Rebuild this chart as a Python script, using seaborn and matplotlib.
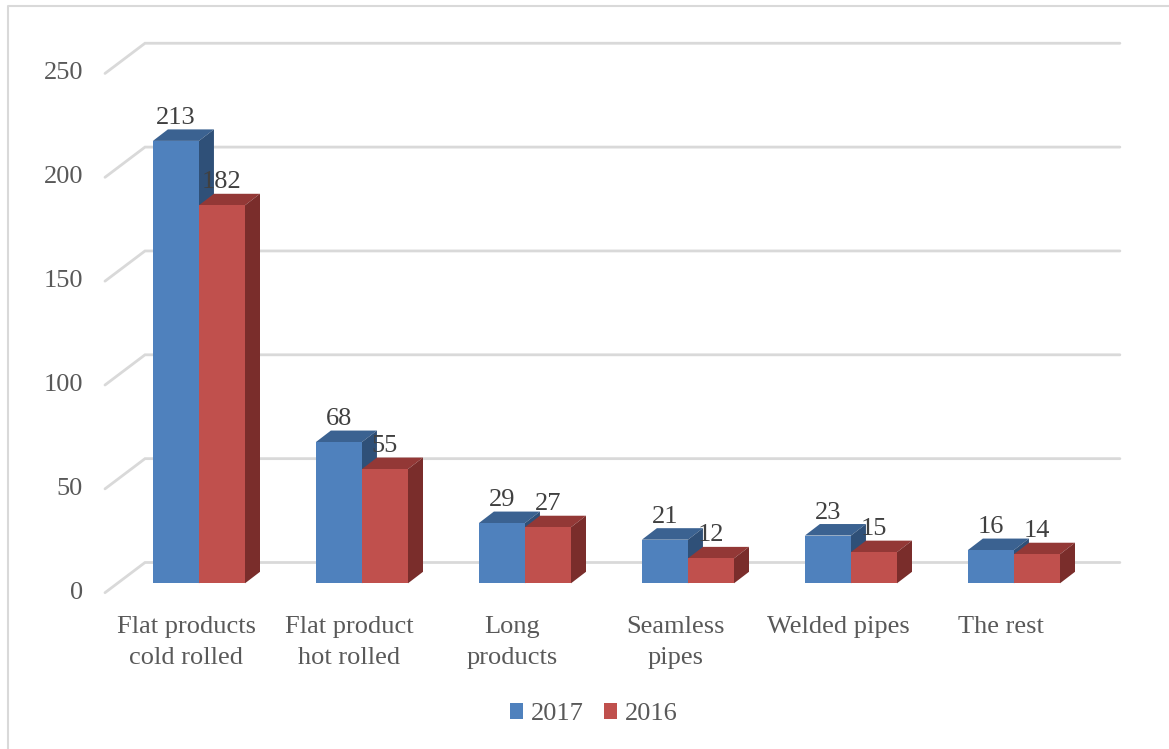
import matplotlib
matplotlib.use("Agg")
import matplotlib.pyplot as plt
from matplotlib.patches import Polygon, Patch
from matplotlib.lines import Line2D
import seaborn as sns
import pandas as pd

# ---- data -------------------------------------------------------------
categories = ["Flat products\ncold rolled", "Flat product\nhot rolled", "Long\nproducts",
              "Seamless\npipes", "Welded pipes", "The rest"]
series_names = ["2017", "2016"]
values_2017 = [213, 68, 29, 21, 23, 16]
values_2016 = [182, 55, 27, 12, 15, 14]
y_ticks = [0, 50, 100, 150, 200, 250]

front_colors = {"2017": "#4F81BD", "2016": "#C0504D"}
top_colors = {"2017": "#3B6291", "2016": "#933836"}
side_colors = {"2017": "#2F5078", "2016": "#7A2D2B"}
grid_color = "#D9D9D9"
label_color = "#595959"
value_color = "#404040"

df = pd.DataFrame({
    "category": categories * 2,
    "year": [series_names[0]] * len(categories) + [series_names[1]] * len(categories),
    "value": values_2017 + values_2016,
})

# ---- figure geometry ----------------------------------------------------
W, H, DPI = 1169, 749, 100
fig = plt.figure(figsize=(W / DPI, H / DPI), dpi=DPI)
sns.set_style("white")
plt.rcParams["font.family"] = ["Liberation Serif", "DejaVu Serif"]

PX_X = 163.0            # pixels per category step
PX_Y = 2.077            # pixels per value unit
XLIM = (-0.65, 5.65)
YLIM = (-12, 262)
left_px = 93
bottom_px = 583.3 + (0 - YLIM[0]) * PX_Y
ax_w = (XLIM[1] - XLIM[0]) * PX_X
ax_h = (YLIM[1] - YLIM[0]) * PX_Y
ax = fig.add_axes([left_px / W, (H - bottom_px) / H, ax_w / W, ax_h / H])

sx = 1.0 / PX_X   # data units per horizontal pixel
sy = 1.0 / PX_Y   # data units per vertical pixel

# oblique depth offsets relative to the bars' front plane
bar_depth = (15 * sx, 11.5 * sy)
wall = (27.3 * sx, 20.8 * sy)
floor_front = (-12.7 * sx, -9.4 * sy)

# ---- bars (front faces) ---------------------------------------------------
sns.barplot(data=df, x="category", y="value", hue="year", order=categories,
            hue_order=series_names, palette=front_colors, width=0.565,
            dodge=True, legend=False, saturation=1, ax=ax, zorder=3,
            linewidth=0)

ax.set_xlim(*XLIM)
ax.set_ylim(*YLIM)
ax.axis("off")

# ---- back wall gridlines, left diagonals and value axis labels --------------
x_wall_left = XLIM[0] + (145 - left_px) * sx
x_floor_left = x_wall_left - 40 * sx
x_wall_right = XLIM[1]
for v in y_ticks:
    yb = v + wall[1]
    yf = v + floor_front[1]
    ax.add_line(Line2D([x_floor_left, x_wall_left, x_wall_right], [yf, yb, yb],
                       color=grid_color, lw=2.0, zorder=1, clip_on=False,
                       solid_joinstyle="miter"))
    ax.text(x_floor_left - 22 * sx, yf, str(v), ha="right", va="center",
            fontsize=19, color=label_color, clip_on=False)

# ---- 3D tops and sides of each bar, plus value labels -----------------------
dx, dy = bar_depth
n_series = len(series_names)
for c_idx, (container, name) in enumerate(zip(ax.containers, series_names)):
    vals = values_2017 if name == "2017" else values_2016
    for i, (bar, val) in enumerate(zip(container, vals)):
        x0 = bar.get_x()
        x1 = x0 + bar.get_width()
        y0 = bar.get_y()
        y1 = y0 + bar.get_height()
        # draw order: left to right, each front covering the previous side
        z = 3 + (i * n_series + c_idx) * 0.01
        top = Polygon([(x0, y1), (x0 + dx, y1 + dy), (x1 + dx, y1 + dy), (x1, y1)],
                      closed=True, facecolor=top_colors[name], edgecolor="none", zorder=z)
        side = Polygon([(x1, y0), (x1, y1), (x1 + dx, y1 + dy), (x1 + dx, y0 + dy)],
                       closed=True, facecolor=side_colors[name], edgecolor="none", zorder=z)
        ax.add_patch(top)
        ax.add_patch(side)
        bar.set_zorder(z + 0.001)
        ax.annotate(str(val), xy=((x0 + x1) / 2, y1), xytext=(0, 12.2),
                    textcoords="offset points", ha="center", va="baseline",
                    fontsize=19, color=value_color, zorder=10)

# ---- category labels on the floor's front edge --------------------------------
for i, cat in enumerate(categories):
    ax.text(i + floor_front[0], floor_front[1] - 23 * sy, cat, ha="center", va="top",
            fontsize=19, color=label_color, linespacing=1.52, clip_on=False)

# ---- legend -------------------------------------------------------------
handles = [Patch(facecolor=front_colors[n_], edgecolor="none", label=n_) for n_ in series_names]
fig.legend(handles=handles, loc="center", bbox_to_anchor=(594 / W, (H - 714) / H),
           ncol=2, frameon=False, fontsize=19, handlelength=0.5, handleheight=0.55,
           handletextpad=0.3, columnspacing=0.75, labelcolor=label_color)

# ---- chart area border (left and top edges) ------------------------------------
fig.add_artist(Line2D([8 / W, 8 / W, 1.0], [0.0, 1 - 6 / H, 1 - 6 / H],
                      transform=fig.transFigure, color="#D9D9D9", lw=1.5))

fig.savefig("out.png", dpi=DPI, facecolor="white")
